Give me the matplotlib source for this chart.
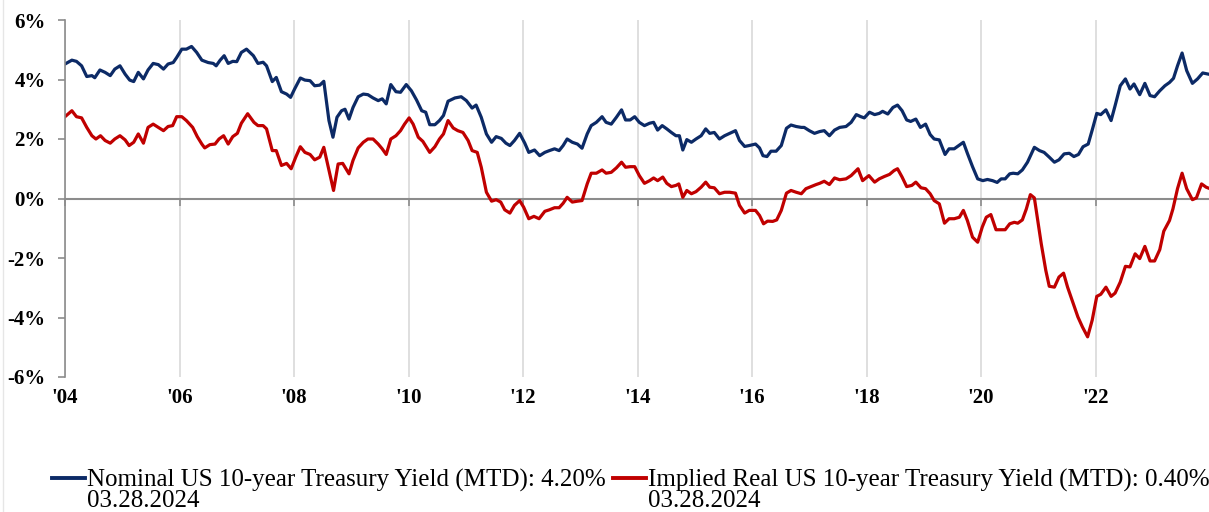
import numpy as np
import matplotlib
matplotlib.use("Agg")
import matplotlib.pyplot as plt
from matplotlib.lines import Line2D

plt.rcParams['font.family'] = ['Liberation Serif', 'DejaVu Serif']

# nominal 10y yield (decimal year, %)
nominal_t = [2004.00, 2004.12, 2004.20, 2004.29, 2004.38, 2004.47, 2004.52, 2004.61, 2004.70, 2004.79,
             2004.87, 2004.96, 2005.05, 2005.13, 2005.20, 2005.28, 2005.37, 2005.45, 2005.54, 2005.63,
             2005.72, 2005.80, 2005.89, 2005.95, 2006.04, 2006.12, 2006.21, 2006.30, 2006.39, 2006.50,
             2006.59, 2006.64, 2006.71, 2006.78, 2006.85, 2006.93, 2007.00, 2007.08, 2007.17, 2007.29,
             2007.37, 2007.46, 2007.52, 2007.62, 2007.69, 2007.78, 2007.87, 2007.94, 2008.01, 2008.11,
             2008.19, 2008.28, 2008.36, 2008.45, 2008.52, 2008.61, 2008.68, 2008.75, 2008.83, 2008.89,
             2008.96, 2009.03, 2009.12, 2009.21, 2009.29, 2009.38, 2009.47, 2009.54, 2009.61, 2009.69,
             2009.78, 2009.86, 2009.96, 2010.05, 2010.14, 2010.23, 2010.30, 2010.37, 2010.46, 2010.54,
             2010.61, 2010.69, 2010.81, 2010.92, 2011.01, 2011.11, 2011.18, 2011.27, 2011.36, 2011.45,
             2011.53, 2011.62, 2011.70, 2011.77, 2011.85, 2011.94, 2012.03, 2012.10, 2012.20, 2012.29,
             2012.38, 2012.46, 2012.55, 2012.63, 2012.70, 2012.77, 2012.86, 2012.95, 2013.03, 2013.12,
             2013.19, 2013.28, 2013.38, 2013.45, 2013.54, 2013.63, 2013.72, 2013.79, 2013.87, 2013.95,
             2014.03, 2014.12, 2014.21, 2014.28, 2014.35, 2014.43, 2014.51, 2014.59, 2014.67, 2014.73,
             2014.79, 2014.86, 2014.94, 2015.02, 2015.11, 2015.19, 2015.26, 2015.34, 2015.43, 2015.52,
             2015.61, 2015.71, 2015.78, 2015.87, 2015.95, 2016.06, 2016.13, 2016.19, 2016.26, 2016.33,
             2016.42, 2016.51, 2016.60, 2016.68, 2016.77, 2016.86, 2016.91, 2017.00, 2017.09, 2017.18,
             2017.26, 2017.35, 2017.44, 2017.53, 2017.64, 2017.73, 2017.82, 2017.90, 2017.96, 2018.05,
             2018.14, 2018.22, 2018.28, 2018.37, 2018.46, 2018.54, 2018.62, 2018.70, 2018.77, 2018.86,
             2018.94, 2019.03, 2019.11, 2019.18, 2019.27, 2019.37, 2019.44, 2019.53, 2019.61, 2019.69,
             2019.76, 2019.85, 2019.94, 2020.03, 2020.11, 2020.20, 2020.28, 2020.35, 2020.42, 2020.50,
             2020.56, 2020.64, 2020.72, 2020.81, 2020.93, 2021.02, 2021.10, 2021.19, 2021.28, 2021.36,
             2021.45, 2021.54, 2021.62, 2021.70, 2021.78, 2021.87, 2021.94, 2022.02, 2022.09, 2022.18,
             2022.27, 2022.34, 2022.43, 2022.52, 2022.60, 2022.67, 2022.77, 2022.86, 2022.95, 2023.03,
             2023.12, 2023.21, 2023.29, 2023.36, 2023.43, 2023.51, 2023.59, 2023.69, 2023.78, 2023.87,
             2023.97]
nominal = [4.52, 4.65, 4.61, 4.46, 4.10, 4.13, 4.06, 4.32, 4.24, 4.13,
           4.35, 4.46, 4.18, 3.98, 3.93, 4.24, 4.02, 4.32, 4.54, 4.50,
           4.35, 4.52, 4.57, 4.74, 5.02, 5.02, 5.11, 4.91, 4.65, 4.57,
           4.54, 4.46, 4.65, 4.80, 4.54, 4.61, 4.60, 4.91, 5.02, 4.80,
           4.54, 4.58, 4.46, 3.93, 4.07, 3.59, 3.51, 3.40, 3.68, 4.05,
           3.98, 3.96, 3.79, 3.81, 3.94, 2.62, 2.06, 2.73, 2.95, 3.00,
           2.67, 3.06, 3.42, 3.51, 3.49, 3.38, 3.29, 3.35, 3.18, 3.83,
           3.59, 3.57, 3.83, 3.62, 3.31, 2.95, 2.90, 2.48, 2.48, 2.62,
           2.79, 3.27, 3.38, 3.42, 3.29, 3.04, 3.14, 2.73, 2.17, 1.89,
           2.08, 2.02, 1.86, 1.78, 1.95, 2.19, 1.86, 1.55, 1.63, 1.44,
           1.55, 1.61, 1.67, 1.61, 1.78, 2.00, 1.89, 1.83, 1.69, 2.17,
           2.45, 2.56, 2.75, 2.56, 2.50, 2.73, 2.98, 2.64, 2.64, 2.75,
           2.56, 2.45, 2.53, 2.56, 2.30, 2.45, 2.34, 2.22, 2.11, 2.11,
           1.63, 1.98, 1.89, 2.00, 2.11, 2.34, 2.19, 2.22, 2.00, 2.11,
           2.19, 2.28, 1.95, 1.75, 1.78, 1.83, 1.70, 1.44, 1.41, 1.59,
           1.59, 1.78, 2.36, 2.47, 2.42, 2.39, 2.39, 2.28, 2.19, 2.25,
           2.28, 2.11, 2.30, 2.39, 2.42, 2.56, 2.82, 2.75, 2.71, 2.90,
           2.82, 2.86, 2.93, 2.84, 3.06, 3.14, 2.95, 2.64, 2.59, 2.67,
           2.39, 2.50, 2.15, 2.00, 1.97, 1.48, 1.67, 1.67, 1.78, 1.89,
           1.52, 1.07, 0.66, 0.60, 0.64, 0.60, 0.54, 0.66, 0.66, 0.83,
           0.85, 0.83, 0.96, 1.22, 1.72, 1.61, 1.55, 1.39, 1.22, 1.30,
           1.50, 1.52, 1.41, 1.48, 1.74, 1.83, 2.30, 2.86, 2.82, 2.98,
           2.62, 3.12, 3.79, 4.02, 3.68, 3.85, 3.49, 3.87, 3.46, 3.42,
           3.62, 3.79, 3.90, 4.04, 4.46, 4.89, 4.30, 3.87, 4.02, 4.22,
           4.18]

# implied real 10y yield (decimal year, %)
real_t = [2004.00, 2004.12, 2004.20, 2004.29, 2004.38, 2004.47, 2004.54, 2004.62, 2004.70, 2004.79,
          2004.87, 2004.96, 2005.05, 2005.12, 2005.20, 2005.28, 2005.37, 2005.45, 2005.54, 2005.63,
          2005.72, 2005.80, 2005.88, 2005.95, 2006.04, 2006.12, 2006.23, 2006.31, 2006.39, 2006.44,
          2006.53, 2006.62, 2006.69, 2006.77, 2006.85, 2006.93, 2007.01, 2007.08, 2007.19, 2007.30,
          2007.37, 2007.46, 2007.52, 2007.62, 2007.69, 2007.78, 2007.87, 2007.95, 2008.03, 2008.11,
          2008.19, 2008.28, 2008.36, 2008.45, 2008.52, 2008.61, 2008.69, 2008.77, 2008.85, 2008.96,
          2009.03, 2009.12, 2009.21, 2009.29, 2009.38, 2009.47, 2009.54, 2009.61, 2009.69, 2009.78,
          2009.86, 2009.93, 2010.01, 2010.08, 2010.17, 2010.25, 2010.37, 2010.46, 2010.54, 2010.61,
          2010.69, 2010.78, 2010.86, 2010.95, 2011.04, 2011.11, 2011.20, 2011.27, 2011.36, 2011.45,
          2011.53, 2011.61, 2011.68, 2011.77, 2011.85, 2011.94, 2012.01, 2012.10, 2012.19, 2012.28,
          2012.38, 2012.46, 2012.55, 2012.63, 2012.70, 2012.77, 2012.86, 2012.95, 2013.03, 2013.12,
          2013.19, 2013.28, 2013.38, 2013.45, 2013.54, 2013.63, 2013.72, 2013.79, 2013.87, 2013.95,
          2014.03, 2014.12, 2014.21, 2014.28, 2014.35, 2014.44, 2014.51, 2014.59, 2014.67, 2014.72,
          2014.79, 2014.86, 2014.94, 2015.02, 2015.11, 2015.19, 2015.26, 2015.34, 2015.43, 2015.52,
          2015.61, 2015.71, 2015.78, 2015.87, 2015.95, 2016.06, 2016.13, 2016.20, 2016.27, 2016.36,
          2016.43, 2016.51, 2016.60, 2016.68, 2016.77, 2016.86, 2016.94, 2017.03, 2017.12, 2017.18,
          2017.26, 2017.35, 2017.44, 2017.53, 2017.64, 2017.73, 2017.85, 2017.93, 2018.04, 2018.14,
          2018.22, 2018.31, 2018.40, 2018.48, 2018.54, 2018.62, 2018.70, 2018.79, 2018.86, 2018.95,
          2019.03, 2019.11, 2019.18, 2019.27, 2019.36, 2019.44, 2019.53, 2019.62, 2019.69, 2019.76,
          2019.85, 2019.94, 2020.02, 2020.09, 2020.17, 2020.26, 2020.35, 2020.42, 2020.50, 2020.58,
          2020.64, 2020.72, 2020.79, 2020.86, 2020.93, 2020.99, 2021.05, 2021.13, 2021.19, 2021.28,
          2021.36, 2021.44, 2021.51, 2021.60, 2021.69, 2021.77, 2021.86, 2021.94, 2022.02, 2022.09,
          2022.18, 2022.27, 2022.34, 2022.43, 2022.52, 2022.60, 2022.69, 2022.77, 2022.86, 2022.95,
          2023.03, 2023.12, 2023.19, 2023.29, 2023.35, 2023.43, 2023.51, 2023.59, 2023.69, 2023.76,
          2023.85, 2023.93, 2023.97]
real = [2.75, 2.95, 2.75, 2.71, 2.39, 2.11, 2.00, 2.11, 1.95, 1.86,
        2.00, 2.11, 1.97, 1.78, 1.89, 2.17, 1.86, 2.39, 2.50, 2.39,
        2.28, 2.42, 2.45, 2.75, 2.75, 2.62, 2.39, 2.08, 1.83, 1.70,
        1.81, 1.83, 2.00, 2.11, 1.83, 2.08, 2.19, 2.53, 2.85, 2.56,
        2.45, 2.45, 2.34, 1.61, 1.61, 1.11, 1.18, 1.00, 1.39, 1.74,
        1.55, 1.48, 1.30, 1.39, 1.72, 0.96, 0.27, 1.16, 1.18, 0.83,
        1.28, 1.70, 1.89, 2.00, 2.00, 1.83, 1.67, 1.48, 2.00, 2.11,
        2.28, 2.50, 2.71, 2.50, 2.06, 1.92, 1.55, 1.74, 2.00, 2.17,
        2.62, 2.37, 2.28, 2.22, 1.95, 1.61, 1.55, 1.05, 0.21, -0.09,
        -0.04, -0.12, -0.38, -0.49, -0.23, -0.07, -0.29, -0.68, -0.60, -0.68,
        -0.43, -0.38, -0.31, -0.31, -0.16, 0.04, -0.12, -0.09, -0.07, 0.49,
        0.85, 0.85, 0.96, 0.85, 0.88, 1.03, 1.22, 1.05, 1.07, 1.07,
        0.77, 0.51, 0.60, 0.69, 0.60, 0.72, 0.51, 0.40, 0.44, 0.49,
        0.04, 0.27, 0.16, 0.23, 0.38, 0.55, 0.38, 0.36, 0.16, 0.21,
        0.21, 0.18, -0.23, -0.49, -0.40, -0.40, -0.57, -0.85, -0.76, -0.77,
        -0.72, -0.40, 0.18, 0.27, 0.21, 0.16, 0.33, 0.40, 0.47, 0.51,
        0.58, 0.47, 0.69, 0.63, 0.66, 0.77, 1.00, 0.60, 0.77, 0.55,
        0.66, 0.74, 0.81, 0.94, 1.00, 0.72, 0.40, 0.44, 0.55, 0.36,
        0.33, 0.16, -0.07, -0.18, -0.83, -0.68, -0.68, -0.63, -0.40, -0.74,
        -1.30, -1.47, -0.96, -0.63, -0.54, -1.05, -1.05, -1.05, -0.85, -0.80,
        -0.83, -0.72, -0.35, 0.13, 0.02, -0.74, -1.52, -2.42, -2.95, -2.98,
        -2.64, -2.51, -2.98, -3.48, -3.98, -4.32, -4.65, -4.09, -3.29, -3.22,
        -2.98, -3.29, -3.18, -2.81, -2.28, -2.30, -1.86, -2.02, -1.61, -2.10,
        -2.10, -1.72, -1.10, -0.74, -0.35, 0.33, 0.85, 0.33, -0.04, 0.02,
        0.49, 0.38, 0.35]

tick_years = [2004, 2006, 2008, 2010, 2012, 2014, 2016, 2018, 2020, 2022]
tick_labels = ["'04", "'06", "'08", "'10", "'12", "'14", "'16", "'18", "'20", "'22"]
y_ticks = [6, 4, 2, 0, -2, -4, -6]

label_nominal = "Nominal US 10-year Treasury Yield (MTD): 4.20%"
label_real = "Implied Real US 10-year Treasury Yield (MTD): 0.40%"
as_of = "03.28.2024"

navy = '#0c2a66'
red = '#c00000'

fig = plt.figure(figsize=(12.09, 5.12), dpi=100)
ax = fig.add_axes([65 / 1209, 1 - 377 / 512, 1 - 65 / 1209, (377 - 20) / 512])

ax.plot(nominal_t, nominal, color=navy, lw=2.3, label=label_nominal, solid_joinstyle='round')
ax.plot(real_t, real, color=red, lw=2.3, label=label_real, solid_joinstyle='round')

ax.set_xlim(2004, 2023.98)
ax.set_ylim(-6, 6)

# axis line at zero with the little year ticks
for s in ['top', 'right']:
    ax.spines[s].set_visible(False)
ax.spines['left'].set_color('#8c8c8c')
ax.spines['left'].set_linewidth(1.2)
ax.spines['bottom'].set_position(('data', 0))
ax.spines['bottom'].set_color('#8c8c8c')
ax.spines['bottom'].set_linewidth(1.5)
ax.spines['bottom'].set_zorder(1)

ax.set_xticks(tick_years)
ax.tick_params(axis='x', direction='out', length=5, width=1.2, color='#8c8c8c', labelbottom=False)
ax.grid(axis='x', color='#d9d9d9', lw=1.2, zorder=0)
ax.set_axisbelow(True)

ax.set_yticks(y_ticks)
ax.set_yticklabels([f'{v}%' for v in y_ticks])
ax.tick_params(axis='y', direction='out', length=5, width=1.2, color='#8c8c8c', pad=9,
               labelsize=15)
for t in ax.get_yticklabels():
    t.set_fontweight('bold')

sec = ax.secondary_xaxis('bottom')
sec.set_xticks(tick_years)
sec.set_xticklabels(tick_labels)
sec.tick_params(length=0, pad=8, labelsize=15)
sec.spines['bottom'].set_visible(False)
for t in sec.get_xticklabels():
    t.set_fontweight('bold')

leg = fig.legend(loc='upper left', bbox_to_anchor=(52 / 1209, 1 - 469 / 512), ncol=2, frameon=False,
                 fontsize=18, handlelength=1.3, handletextpad=0.1, columnspacing=0.3,
                 borderaxespad=0, borderpad=0)
for h in leg.get_lines():
    h.set_linewidth(2.8)

# faint frame line on the left edge
fig.add_artist(Line2D([3 / 1209, 3 / 1209], [0, 1], transform=fig.transFigure, color='#e6e6e6', lw=1))

fig.canvas.draw()
inv = fig.transFigure.inverted()
for t in leg.get_texts():
    bb = t.get_window_extent()
    x0, _ = inv.transform((bb.x0, bb.y0))
    fig.text(x0, 1 - 507 / 512, as_of, fontsize=18, va='baseline', ha='left')

fig.savefig('out.png', dpi=100)
